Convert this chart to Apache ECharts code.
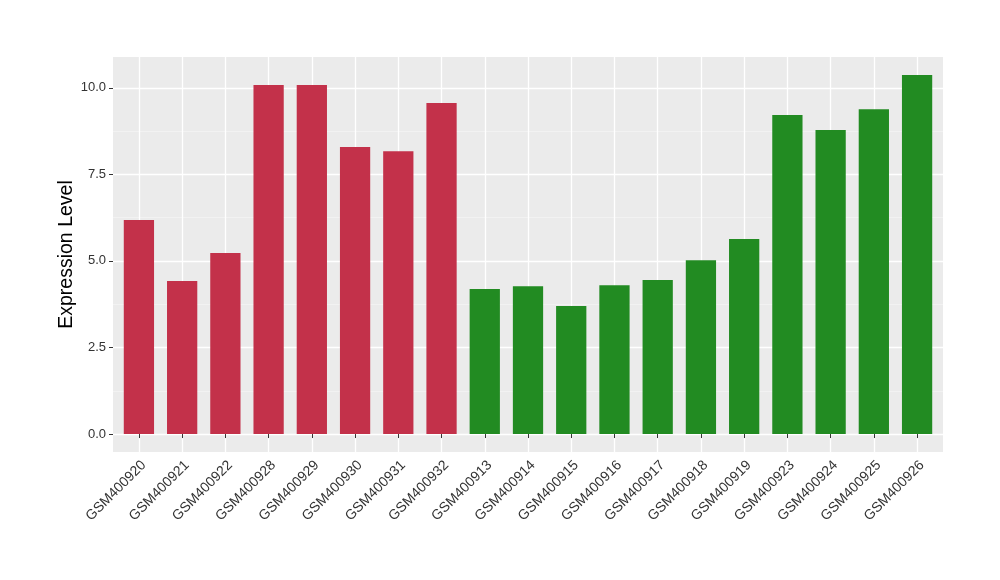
<!DOCTYPE html>
<html>
<head>
<meta charset="utf-8">
<script src="https://cdn.jsdelivr.net/npm/echarts@6/dist/echarts.min.js"></script>
<style>
html,body{margin:0;padding:0;background:#fff;}
#chart{width:1000px;height:580px;}
</style>
</head>
<body>
<div id="chart"></div>
<script>
const categories = ["GSM400920","GSM400921","GSM400922","GSM400928","GSM400929","GSM400930","GSM400931","GSM400932","GSM400913","GSM400914","GSM400915","GSM400916","GSM400917","GSM400918","GSM400919","GSM400923","GSM400924","GSM400925","GSM400926"];
const values = [6.18, 4.42, 5.23, 10.08, 10.08, 8.29, 8.17, 9.56, 4.19, 4.27, 3.70, 4.30, 4.45, 5.02, 5.63, 9.21, 8.78, 9.38, 10.37];
const groups = ["a","a","a","a","a","a","a","a","b","b","b","b","b","b","b","b","b","b","b"];
const groupColors = {a: "#C3314A", b: "#228B22"};
const yMajorTicks = [0, 2.5, 5, 7.5, 10];
const yMinorTicks = [1.25, 3.75, 6.25, 8.75];
const yTitle = "Expression Level";

const yMin = -0.5185, yMax = 10.8885;
const font = "Liberation Sans, Arial, Helvetica, sans-serif";

const chart = echarts.init(document.getElementById('chart'), null, {renderer: 'canvas'});
chart.setOption({
  animation: false,
  backgroundColor: '#ffffff',
  grid: [
    {left: 113, right: 57, top: 57, bottom: 128, show: true, backgroundColor: '#EBEBEB', borderWidth: 0},
    {left: 117.3, right: 61.3, top: 57, bottom: 128}
  ],
  xAxis: [
    {gridIndex: 0, type: 'value', min: 0, max: 1, show: false},
    {
      gridIndex: 1, type: 'category', data: categories, boundaryGap: true,
      axisLine: {show: false},
      axisTick: {show: true, alignWithLabel: true, length: 4, lineStyle: {color: '#333333', width: 1}},
      splitLine: {show: true, alignWithLabel: true, lineStyle: {color: '#ffffff', width: 1.3}},
      axisLabel: {
        interval: 0, rotate: 45, align: 'right', verticalAlign: 'top', margin: 6,
        fontFamily: font, fontSize: 14, color: '#333333'
      }
    }
  ],
  yAxis: [
    {
      gridIndex: 0, type: 'value', min: yMin, max: yMax,
      name: yTitle, nameLocation: 'middle', nameGap: 36, nameMoveOverlap: false,
      nameTextStyle: {fontFamily: font, fontSize: 19.5, color: '#000000'},
      axisLine: {show: false},
      axisTick: {show: true, length: 4, customValues: yMajorTicks, lineStyle: {color: '#333333', width: 1}},
      axisLabel: {
        customValues: yMajorTicks, margin: 7, fontFamily: font, fontSize: 13, color: '#333333',
        formatter: v => v.toFixed(1)
      },
      splitLine: {show: true, lineStyle: {color: '#ffffff', width: 1.3}}
    },
    {
      gridIndex: 0, type: 'value', min: yMin, max: yMax,
      axisLine: {show: false},
      axisTick: {show: false, customValues: yMinorTicks},
      axisLabel: {show: false, customValues: yMinorTicks},
      splitLine: {show: true, lineStyle: {color: '#F5F5F5', width: 0.7}}
    },
    {
      gridIndex: 1, type: 'value', min: yMin, max: yMax, show: false,
      splitLine: {show: false}
    }
  ],
  series: [{
    type: 'bar',
    xAxisIndex: 1, yAxisIndex: 2,
    barWidth: '70%',
    data: values.map((v, i) => ({value: v, itemStyle: {color: groupColors[groups[i]]}}))
  }]
});
</script>
</body>
</html>
